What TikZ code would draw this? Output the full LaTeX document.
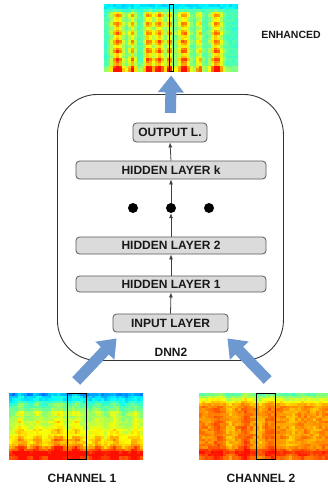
\documentclass[tikz,border=0pt]{standalone}
\usepackage{fontspec}
\setmainfont{Liberation Sans}
\usetikzlibrary{arrows.meta,calc}

\tikzset{
  declare function={
    jr(\xv)=max(0,min(1,1.5-abs(4*\xv-3)));
    jg(\xv)=max(0,min(1,1.5-abs(4*\xv-2)));
    jb(\xv)=max(0,min(1,1.5-abs(4*\xv-1)));
    bump(\xa,\xb,\xc)=exp(-((\xa-\xb)/\xc)^2);
    ramp(\xa)=max(0,min(1,\xa));
  }
}

% Spectrogram tile grid: #1,#2 top-left, #3 x #4 size, #5 x #6 cells,
% #7 column profile (uses \su), #8 cell value (uses \su,\st,\sS)
\newcommand\specgram[8]{%
  \begin{scope}
    \clip (#1,#2) rectangle ++(#3,#4);
    \pgfmathsetmacro\cellw{#3/#5}
    \pgfmathsetmacro\cellh{#4/#6}
    \pgfmathtruncatemacro\lastx{#5-1}
    \pgfmathtruncatemacro\lasty{#6-1}
    \foreach \ii in {0,...,\lastx}{
      \pgfmathsetmacro\su{(\ii+0.5)/#5}
      \pgfmathsetmacro\sS{#7}
      \foreach \jj in {0,...,\lasty}{
        \pgfmathsetmacro\st{1-(\jj+0.5)/#6}
        \pgfmathsetmacro\sv{min(0.86,#8)}
        \pgfmathsetmacro\jR{jr(\sv)}
        \pgfmathsetmacro\jG{jg(\sv)}
        \pgfmathsetmacro\jB{jb(\sv)}
        \definecolor{cc}{rgb}{\jR,\jG,\jB}
        \fill[cc] (#1+\ii*\cellw,#2+\jj*\cellh) rectangle ++(\cellw+0.5,\cellh+0.5);
      }
    }
  \end{scope}
}

\definecolor{arrowblue}{RGB}{110,153,208}

\begin{document}
\begin{tikzpicture}[x=1pt,y=-1pt,
  font=\fontsize{12}{14}\selectfont\bfseries,
  layer/.style={draw=black!65, fill=black!14, rounded corners=3.5pt,
    line width=0.8pt, inner sep=0pt, minimum height=17pt, text=black!90},
  flow/.style={-{Latex[length=5pt,width=4pt]}, draw=black!75, line width=0.8pt},
  bigarrow/.style={line width=11pt, draw=arrowblue,
    -{Triangle[width=25pt,length=17pt]}},
  dot/.style={circle, fill=black, inner sep=0pt, minimum size=10pt},
  frame/.style={inner sep=0pt, anchor=north west},
  window/.style={draw=black, line width=0.8pt},
  caption/.style={text=black!90}]

\useasboundingbox (0,0) rectangle (328,488);
\pgfmathsetseed{7}

% enhanced output spectrogram
\specgram{104}{4}{134}{67}{45}{26}
  {0.42*bump(\su,0.10,0.045)+0.34*bump(\su,0.21,0.026)+0.4*bump(\su,0.33,0.032)
   +0.4*bump(\su,0.41,0.038)+0.38*bump(\su,0.49,0.026)+0.4*bump(\su,0.60,0.045)
   +0.3*bump(\su,0.715,0.022)+0.4*bump(\su,0.84,0.045)}
  {0.44-0.09*ramp((\st-0.9)/0.05)+0.06*bump(\st,0.03,0.06)
   +\sS*(0.78+0.22*sin(2700*\st))*(1-0.25*\st)*(1-ramp((\st-0.86)/0.06))
   +0.15*\sS*bump(\st,0.05,0.07)+0.05*(rnd-0.5)}

% channel 1 spectrogram
\specgram{9}{393}{134}{66}{45}{26}
  {0.9*bump(\su,0.09,0.035)+0.7*bump(\su,0.21,0.035)+1.0*bump(\su,0.36,0.055)
   +0.9*bump(\su,0.50,0.045)+0.6*bump(\su,0.66,0.03)+0.7*bump(\su,0.79,0.035)
   +0.6*bump(\su,0.94,0.035)}
  {0.52-0.25*ramp((\st-0.7)/0.3)-0.05*ramp((\st-0.93)/0.07)
   +0.16*ramp((0.6-\st)/0.45)+0.18*bump(\st,0.07,0.07)
   +0.18*\sS*(0.7+0.3*sin(2700*\st))*(1-0.4*\st)+0.07*(rnd-0.5)}

% channel 2 spectrogram
\specgram{199}{393}{129}{66}{43}{26}
  {0.6*bump(\su,0.15,0.04)+0.8*bump(\su,0.36,0.03)+0.4*bump(\su,0.55,0.05)
   -0.7*bump(\su,0.24,0.04)-0.6*bump(\su,0.47,0.04)-0.7*bump(\su,0.72,0.05)
   -0.5*bump(\su,0.9,0.04)}
  {0.74-0.28*ramp((\st-0.8)/0.2)+0.1*bump(\st,0.08,0.07)
   +0.08*\sS*(1-0.3*\st)+0.07*(rnd-0.5)}

% spectrogram frames (for connectors) and analysis windows
\node[frame, minimum width=134pt, minimum height=67pt] (enh) at (104,4) {};
\node[frame, minimum width=134pt, minimum height=66pt] (ch1) at (9,393) {};
\node[frame, minimum width=129pt, minimum height=66pt] (ch2) at (199,393) {};
\draw[window] (169,4) rectangle (173,71);
\draw[window] (67,393) rectangle (86,459);
\draw[window] (256,393) rectangle (275,459);

% DNN container
\node[draw=black!80, line width=0.9pt, rounded corners=40pt, inner sep=0pt,
  minimum width=226pt, minimum height=266pt, anchor=north west] (dnn) at (57,94) {};
\node[caption] (dnnlabel) at (171,352) {DNN2};

% layers
\node[layer, minimum width=74pt, minimum height=19pt] (outl) at (170,132.5) {OUTPUT L.};
\node[layer, minimum width=190pt, minimum height=18pt] (hk) at (171,170) {HIDDEN LAYER k};
\node[dot] (d1) at (133,208) {};
\node[dot] (d2) at (171,208) {};
\node[dot] (d3) at (209,208) {};
\node[layer, minimum width=190pt, minimum height=17pt] (h2) at (171,245.5) {HIDDEN LAYER 2};
\node[layer, minimum width=190pt, minimum height=16pt] (h1) at (171,284) {HIDDEN LAYER 1};
\node[layer, minimum width=115pt, minimum height=18pt] (inp) at (170.5,323) {INPUT LAYER};

% forward connections
\draw[flow] (inp.north) -- (h1.south);
\draw[flow] (h1.north) -- (h2.south);
\draw[flow] (h2.north) -- (d2.south);
\draw[flow] (d2.north) -- (hk.south);
\draw[flow] (hk.north) -- (outl.south);

% signal flow arrows
\draw[bigarrow] ([yshift=-19pt]dnn.north) -- ([yshift=-4pt]enh.south);
\draw[bigarrow] ([yshift=12pt]ch1.north) -- ([shift={(4pt,-6pt)}]inp.south west);
\draw[bigarrow] ([shift={(4pt,13pt)}]ch2.north) -- ([shift={(-1pt,-6pt)}]inp.south east);

% captions
\node[caption] (lab1) at (82,478) {CHANNEL 1};
\node[caption] (lab2) at (261,478) {CHANNEL 2};
\node[caption, font=\fontsize{10.5}{12}\selectfont\bfseries] (labe) at (291,35) {ENHANCED};
\end{tikzpicture}
\end{document}
